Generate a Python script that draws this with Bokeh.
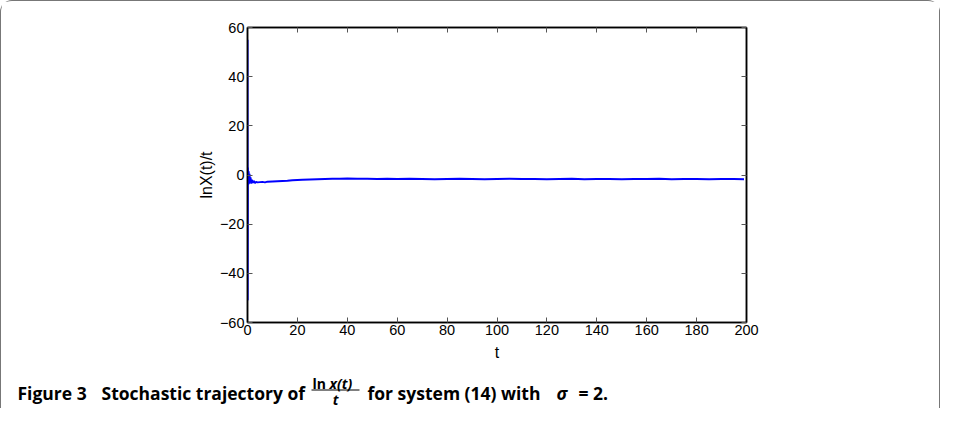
from bokeh.plotting import figure
from bokeh.layouts import column
from bokeh.models import LinearAxis, Range1d, FixedTicker
from bokeh.core.properties import value
from bokeh.embed import file_html
from bokeh.resources import INLINE

# ---- data ----
t_vals = [0, 0.05, 0.15, 0.3, 0.45, 0.6, 0.8, 1.0, 1.2, 1.5,
          1.8, 2.2, 2.6, 3.0, 3.5, 4, 5, 6, 7, 8,
          10, 12, 14, 16, 18, 20, 22, 25, 28, 31,
          34, 37, 40, 44, 48, 52, 56, 60, 65, 70,
          75, 80, 85, 90, 95, 100, 105, 110, 115, 120,
          125, 130, 135, 140, 145, 150, 155, 160, 165, 170,
          175, 180, 185, 190, 195, 199]
lnx_over_t = [55, -51, 3, -4, 1.5, -3.5, 0.5, -3, -1, -3.5,
              -2, -3.2, -2.4, -3.3, -2.8, -3.0, -2.9, -2.8, -3.0, -2.7,
              -2.6, -2.5, -2.4, -2.3, -2.1, -2.0, -1.9, -1.8, -1.7, -1.6,
              -1.5, -1.5, -1.4, -1.5, -1.5, -1.6, -1.5, -1.6, -1.5, -1.6,
              -1.7, -1.6, -1.5, -1.6, -1.7, -1.6, -1.5, -1.6, -1.6, -1.7,
              -1.6, -1.5, -1.7, -1.6, -1.6, -1.7, -1.6, -1.6, -1.5, -1.7,
              -1.6, -1.6, -1.7, -1.6, -1.6, -1.7]
x_ticks = [0, 20, 40, 60, 80, 100, 120, 140, 160, 180, 200]
y_ticks = [-60, -40, -20, 0, 20, 40, 60]
y_tick_labels = {-60: "\u221260", -40: "\u221240", -20: "\u221220", 0: "0", 20: "20", 40: "40", 60: "60"}

W = 938          # inner width (1px CSS border each side -> 940)
H1, H2 = 364, 43  # main figure, caption strip
FL, FR, FT, FB = 246, 745, 26, 321  # frame edges inside main figure

p = figure(width=W, height=H1, output_backend="svg", toolbar_location=None,
           x_range=Range1d(0, 200), y_range=Range1d(-60, 60),
           min_border_left=FL, min_border_right=W - FR,
           min_border_top=FT, min_border_bottom=H1 - FB,
           x_axis_label="t", y_axis_label="lnX(t)/t")
p.frame_align = False
p.grid.visible = False
p.outline_line_color = "black"
p.outline_line_width = 1.5
p.background_fill_color = "white"
p.border_fill_color = "white"

p.line(t_vals, lnx_over_t, line_color="#0000FF", line_width=2)

def style_axis(ax):
    ax.axis_line_color = "black"
    ax.axis_line_width = 1.5
    ax.major_tick_in = 5
    ax.major_tick_out = 0
    ax.minor_tick_in = 0
    ax.minor_tick_out = 0
    ax.major_tick_line_color = "#555555"
    ax.major_label_text_font = "Liberation Sans"
    ax.major_label_text_font_size = "14.5px"
    ax.major_label_text_color = "black"
    ax.axis_label_text_font = "Liberation Sans"
    ax.axis_label_text_font_size = "16px"
    ax.axis_label_text_font_style = "normal"
    ax.axis_label_text_color = "black"

xa = p.xaxis[0]
xa.ticker = FixedTicker(ticks=x_ticks)
style_axis(xa)
xa.major_label_standoff = 2
xa.axis_label_standoff = 6

ya = p.yaxis[0]
ya.ticker = FixedTicker(ticks=y_ticks)
ya.major_label_overrides = y_tick_labels
style_axis(ya)
ya.major_label_standoff = 3
ya.axis_label_standoff = 2

top = LinearAxis(ticker=FixedTicker(ticks=x_ticks))
style_axis(top)
top.major_label_overrides = {v: "" for v in x_ticks}
p.add_layout(top, "above")
right = LinearAxis(ticker=FixedTicker(ticks=y_ticks))
style_axis(right)
right.major_label_overrides = {v: "" for v in y_ticks}
p.add_layout(right, "right")

# ---- caption strip: a figure whose ranges are page pixels ----
cap_top = 1 + H1
c = figure(width=W, height=H2, output_backend="svg", toolbar_location=None,
           x_range=Range1d(1, 1 + W), y_range=Range1d(cap_top + H2, cap_top),
           min_border=0)
c.frame_align = False
c.axis.visible = False
c.grid.visible = False
c.outline_line_color = None
c.background_fill_color = "white"
c.border_fill_color = "white"

DY = -5  # empirical vertical correction of the strip
CAP_FONT = value("Open Sans")
def cap(xs, ys, texts, size="17.5px", style="bold", align="left"):
    c.text(x=xs, y=[y + DY for y in ys], text=texts, text_font=CAP_FONT, text_font_size=size,
           text_font_style=style, text_color="black", text_align=align,
           text_baseline="alphabetic")

cap([17], [397], ["Figure 3"])
cap([101], [397], ["Stochastic trajectory of"])
cap([312], [388], ["ln"], size="14px")
cap([329], [388], ["x(t)"], size="14px", style="bold italic")
cap([335], [404], ["t"], size="14px", style="bold italic", align="center")
c.segment(x0=[311], y0=[394.5 + DY], x1=[359], y1=[394.5 + DY], line_color="black", line_width=1.2)
cap([367], [397], ["for system (14) with"])
cap([556], [397], ["\u03c3"], style="bold italic")
cap([578], [397], ["= 2."])

layout = column(p, c, spacing=0,
                styles={"border": "1.2px solid #777777", "border-bottom": "none",
                        "border-radius": "12px 12px 0 0"})

open("out.html", "w").write(file_html(layout, INLINE))
